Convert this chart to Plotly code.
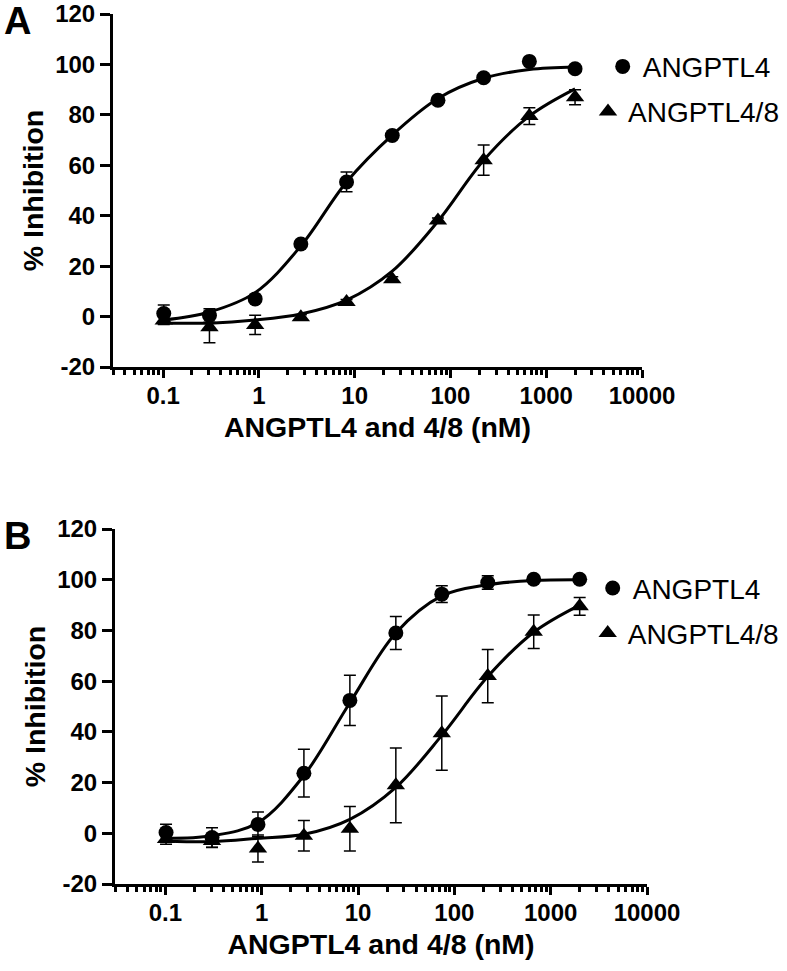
import plotly.graph_objects as go

# ---------------- data ----------------
conc = [0.1016, 0.3048, 0.9145, 2.743, 8.230, 24.69, 74.07, 222.2, 666.7, 2000]

# Panel A
a_l4_y = [1.2, 0.4, 7.0, 28.8, 53.4, 71.8, 85.8, 94.7, 101.2, 98.3]
a_l4_err = [3.4, 2.7, 1.0, 1.0, 3.9, 1.0, 1.0, 1.0, 1.0, 1.0]
a_l48_y = [-1.6, -4.2, -3.3, -0.3, 5.8, 14.8, 38.1, 62.0, 79.5, 87.0]
a_l48_err = [1.5, 6.2, 3.8, 1.0, 1.0, 1.0, 1.0, 6.0, 3.3, 3.0]
a_l4_fit = [-1.4, 1.8, 9.5, 28.0, 53.4, 72.0, 86.5, 94.5, 98.0, 99.0]
a_l48_fit = [-2.5, -2.6, -1.4, 1.0, 6.5, 18.0, 37.8, 62.0, 79.5, 90.3]

# Panel B
b_l4_y = [0.3, -1.7, 3.5, 23.7, 52.4, 79.0, 94.3, 98.9, 100.2, 100.2]
b_l4_err = [3.3, 3.9, 4.9, 9.4, 9.9, 6.5, 3.3, 2.7, 1.0, 1.0]
b_l48_y = [-2.3, -3.0, -6.0, -1.0, 1.8, 18.9, 39.5, 62.0, 79.5, 89.5]
b_l48_err = [2.0, 2.5, 5.3, 6.0, 8.8, 14.7, 14.6, 10.5, 6.6, 3.5]
b_l4_fit = [-2.0, -1.0, 4.2, 22.8, 51.5, 79.0, 93.6, 98.0, 99.7, 100.0]
b_l48_fit = [-3.0, -3.3, -2.0, -0.4, 5.5, 18.1, 38.6, 61.8, 79.3, 90.0]

x_tickvals = [0.1, 1, 10, 100, 1000, 10000]
x_ticktext = ["0.1", "1", "10", "100", "1000", "10000"]
y_tickvals = [-20, 0, 20, 40, 60, 80, 100, 120]
y_ticktext = ["-20", "0", "20", "40", "60", "80", "100", "120"]
series_names = ["ANGPTL4", "ANGPTL4/8"]
x_title = "ANGPTL4 and 4/8 (nM)"
y_title = "% Inhibition"
panel_labels = ["A", "B"]

# ---------------- style ----------------
FONT = "Liberation Sans, Arial, sans-serif"
W, H = 787, 971

fig = go.Figure()

def add_panel(xa, ya, l4_y, l4_err, l48_y, l48_err, l4_fit, l48_fit, leg1, leg2):
    for fit in (l4_fit, l48_fit):
        fig.add_trace(go.Scatter(
            x=conc, y=fit, mode="lines", line=dict(color="black", width=3, shape="spline"),
            showlegend=False, hoverinfo="skip", xaxis=xa, yaxis=ya))
    fig.add_trace(go.Scatter(
        x=conc, y=l4_y, mode="markers", name=series_names[0],
        marker=dict(symbol="circle", size=15, color="black"),
        error_y=dict(type="data", array=l4_err, visible=True, color="black", thickness=1.5, width=6),
        xaxis=xa, yaxis=ya, legend=leg1))
    fig.add_trace(go.Scatter(
        x=conc, y=l48_y, mode="markers", name=series_names[1],
        marker=dict(symbol="triangle-up", size=16, color="black"),
        error_y=dict(type="data", array=l48_err, visible=True, color="black", thickness=1.5, width=6),
        xaxis=xa, yaxis=ya, legend=leg2))

add_panel("x", "y", a_l4_y, a_l4_err, a_l48_y, a_l48_err, a_l4_fit, a_l48_fit, "legend", "legend2")
add_panel("x2", "y2", b_l4_y, b_l4_err, b_l48_y, b_l48_err, b_l4_fit, b_l48_fit, "legend3", "legend4")

tickfont = dict(family=FONT, size=24, color="black", weight="bold")
titlefont = dict(family=FONT, size=28.5, color="black", weight="bold")

def xaxis_cfg(domain, anchor):
    return dict(
        domain=domain, anchor=anchor, type="log", automargin=False,
        range=[-1.523, 4.0], showline=True, linewidth=3, linecolor="black",
        showgrid=False, zeroline=False,
        tickmode="array", tickvals=x_tickvals, ticktext=x_ticktext,
        ticks="outside", ticklen=8, tickwidth=3, tickcolor="black",
        tickfont=tickfont, ticklabelstandoff=-3,
        minor=dict(ticks="outside", ticklen=5, tickwidth=2.5, tickcolor="black", dtick="D1", showgrid=False),
        title=dict(text=x_title, font=titlefont, standoff=10),
    )

def yaxis_cfg(domain, anchor):
    return dict(
        domain=domain, anchor=anchor, automargin=False,
        range=[-20, 120], showline=True, linewidth=3, linecolor="black",
        showgrid=False, zeroline=False,
        tickmode="array", tickvals=y_tickvals, ticktext=y_ticktext,
        ticks="outside", ticklen=10, tickwidth=3, tickcolor="black",
        tickfont=tickfont,
        title=dict(text=y_title, font=titlefont, standoff=4),
    )

legfont = dict(family=FONT, size=28, color="black")

def leg(xc, yc):
    return dict(x=(xc - 19) / W, y=1 - yc / H, xanchor="left", yanchor="middle",
                font=legfont, bgcolor="rgba(0,0,0,0)", borderwidth=0, itemwidth=30)

fig.update_layout(
    width=W, height=H,
    margin=dict(l=0, r=0, t=0, b=0, autoexpand=False),
    paper_bgcolor="white", plot_bgcolor="white",
    xaxis=xaxis_cfg([113 / W, 642 / W], "y"),
    yaxis=yaxis_cfg([1 - 367 / H, 1 - 14 / H], "x"),
    xaxis2=xaxis_cfg([115 / W, 647 / W], "y2"),
    yaxis2=yaxis_cfg([1 - 884 / H, 1 - 529 / H], "x2"),
    legend=leg(621.7, 66.7),
    legend2=leg(607, 111.7),
    legend3=leg(611.7, 588.3),
    legend4=leg(606.7, 633.3),
    annotations=[
        dict(text=panel_labels[0], x=17.5 / W, y=1 - 21 / H, xref="paper", yref="paper",
             showarrow=False, xanchor="center", yanchor="middle",
             font=dict(family=FONT, size=38, color="black", weight="bold")),
        dict(text=panel_labels[1], x=17.5 / W, y=1 - 535.5 / H, xref="paper", yref="paper",
             showarrow=False, xanchor="center", yanchor="middle",
             font=dict(family=FONT, size=38, color="black", weight="bold")),
    ],
)

fig.write_html("out.html", config={"displayModeBar": False},
               post_script="document.body.style.margin='0px';")
